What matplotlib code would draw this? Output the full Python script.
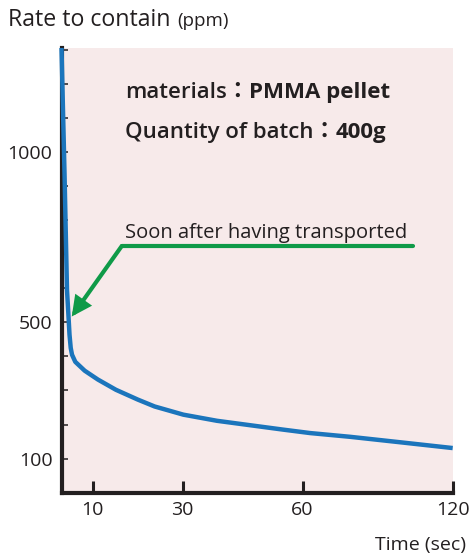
import numpy as np
import matplotlib
matplotlib.use('Agg')
import matplotlib.pyplot as plt
from matplotlib.ticker import FixedLocator, FixedFormatter

plt.rcParams['font.family'] = ['Open Sans', 'Noto Sans CJK JP', 'DejaVu Sans']

# contamination curve
time_sec = [0, 0.97, 1.77, 2.19, 2.58, 2.97, 3.39, 4.45, 7.48, 11.2, 15.2, 20.1, 23.8,
            30.2, 38.6, 46.9, 55.2, 63.0, 79.0, 99.0, 120]
rate_ppm = [1305, 938, 595, 528, 464, 425, 405, 384, 358, 332, 302, 273, 253,
            229, 211, 198, 185, 175, 164, 148, 131]

x_ticks = [10, 30, 60, 120]
y_ticks = [100, 500, 1000]
y_minor = [200, 300, 400, 600, 700, 800, 900, 1100, 1200, 1300]

# the time axis is not linear on the original: piecewise stretch
scale_sec = [0, 10, 30, 60, 120]
scale_pos = [0, 31, 121, 241, 391]

# annotation arrow (sec, ppm)
arrow_tip = (3.3, 517)
arrow_elbow = (16.5, 724)
arrow_end = (104, 724)

blue = '#1b75bc'
green = '#0f9a48'
pink = '#f7eaea'
dark = '#231f20'


def fwd(x):
    return np.interp(x, scale_sec, scale_pos)


def inv(x):
    return np.interp(x, scale_pos, scale_sec)


fig = plt.figure(figsize=(4.72, 5.56), dpi=100)
ax = fig.add_axes([61.5 / 472, 1 - 492.7 / 556, (452.7 - 61.5) / 472, (492.7 - 48) / 556])
ax.set_facecolor(pink)
ax.set_xscale('function', functions=(fwd, inv))
ax.set_xlim(0, 120)
ax.set_ylim(0, 1305)

ax.plot(time_sec, rate_ppm, color=blue, lw=3.2, solid_capstyle='butt',
        solid_joinstyle='round', clip_on=False, zorder=5)

for s in ['top', 'right']:
    ax.spines[s].set_visible(False)
for s in ['left', 'bottom']:
    ax.spines[s].set_linewidth(3)
    ax.spines[s].set_color(dark)

ax.xaxis.set_major_locator(FixedLocator(x_ticks))
ax.xaxis.set_major_formatter(FixedFormatter([str(v) for v in x_ticks]))
ax.yaxis.set_major_locator(FixedLocator(y_ticks))
ax.yaxis.set_major_formatter(FixedFormatter([str(v) for v in y_ticks]))
ax.yaxis.set_minor_locator(FixedLocator(y_minor))
ax.tick_params(axis='x', direction='in', length=9, width=2.2, color=dark, pad=6,
               labelsize=14, labelcolor=dark)
ax.tick_params(axis='y', which='both', direction='in', length=4.3, width=1.1, color=dark,
               pad=6.5, labelsize=14, labelcolor=dark)

# text block
t1 = ax.text(0.163, 0.899, 'materials：', transform=ax.transAxes, fontsize=16,
             fontweight='semibold', color=dark, va='center', ha='left')
ax.annotate('PMMA pellet', xy=(1, 0), xycoords=t1, va='bottom', ha='left',
            fontsize=16, fontweight='bold', color=dark)
t2 = ax.text(0.163, 0.809, 'Quantity of batch：', transform=ax.transAxes, fontsize=16,
             fontweight='semibold', color=dark, va='center', ha='left')
ax.annotate('400g', xy=(1, 0), xycoords=t2, va='bottom', ha='left',
            fontsize=16, fontweight='bold', color=dark)

ax.text(0.163, 0.585, 'Soon after having transported', transform=ax.transAxes,
        fontsize=14.5, color=dark, va='center', ha='left')

ax.plot([arrow_end[0], arrow_elbow[0]], [arrow_end[1], arrow_elbow[1]], color=green,
        lw=3, solid_capstyle='round', zorder=4)
ax.annotate('', xy=arrow_tip, xytext=arrow_elbow,
            arrowprops=dict(arrowstyle='-|>,head_length=0.5,head_width=0.25', color=green,
                            lw=3, shrinkA=0, shrinkB=0, mutation_scale=20,
                            joinstyle='miter', capstyle='round'), zorder=4)

# titles
fig.text(8 / 472, 1 - 26 / 556, 'Rate to contain', fontsize=16.7, color=dark,
         va='baseline', ha='left')
fig.text(177 / 472, 1 - 26 / 556, '(ppm)', fontsize=13.5, color=dark, va='baseline', ha='left')
fig.text(466 / 472, 1 - 550 / 556, 'Time (sec)', fontsize=14, color=dark,
         va='baseline', ha='right')

fig.savefig('out.png', dpi=100)
